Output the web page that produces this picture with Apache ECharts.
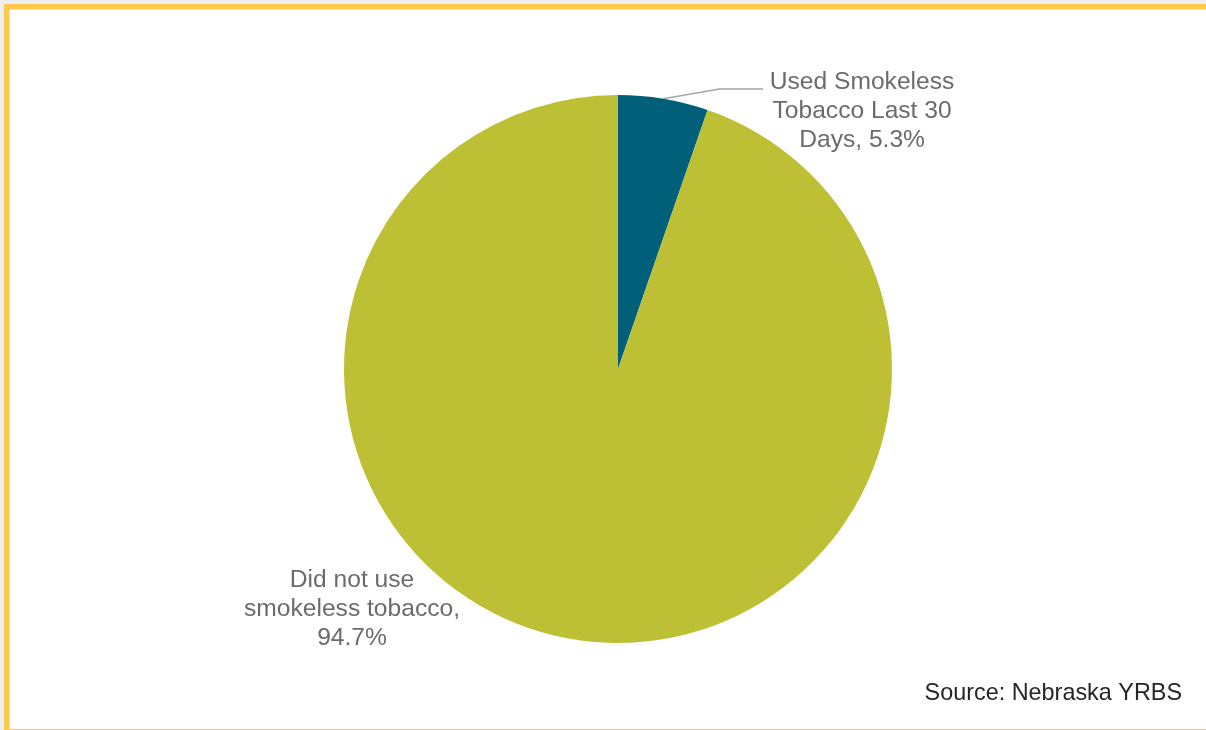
<!DOCTYPE html>
<html>
<head>
<meta charset="utf-8">
<script src="https://cdn.jsdelivr.net/npm/echarts@6/dist/echarts.min.js"></script>
<style>
  html, body { margin: 0; padding: 0; width: 1206px; height: 730px; overflow: hidden; background: #eceef0; }
  #frame { position: absolute; left: 4px; top: 4px; width: 1300px; height: 720px; border: 5px solid #ffc84b; background: #ffffff; box-shadow: inset 1px 1px 0 #ffe7a8; }
  #chart { position: absolute; left: 0; top: 0; width: 1206px; height: 730px; }
</style>
</head>
<body>
<div id="frame"></div>
<div id="chart"></div>
<script>
const categories = ['Used Smokeless Tobacco Last 30 Days', 'Did not use smokeless tobacco'];
const values = [5.3, 94.7];
const colors = ['#00607a', '#bdbf35'];
const labelLines = [
  ['Used Smokeless', 'Tobacco Last 30', 'Days, 5.3%'],
  ['Did not use', 'smokeless tobacco,', '94.7%']
];
const sourceText = 'Source: Nebraska YRBS';

const FONT = '"Liberation Sans", Arial, sans-serif';
const chart = echarts.init(document.getElementById('chart'), null, { renderer: 'canvas' });

chart.setOption({
  animation: false,
  backgroundColor: 'transparent',
  textStyle: { fontFamily: FONT },
  graphic: [{
    type: 'text',
    style: {
      x: 1182, y: 694,
      text: sourceText,
      align: 'right', verticalAlign: 'middle',
      fill: '#262626',
      font: '23.4px ' + FONT
    }
  }],
  series: [{
    type: 'pie',
    center: [618, 369],
    radius: 274,
    startAngle: 90,
    clockwise: true,
    avoidLabelOverlap: false,
    itemStyle: { borderWidth: 0 },
    label: {
      show: true,
      position: 'outside',
      alignTo: 'none',
      color: '#6b6b6b',
      fontSize: 24.6,
      lineHeight: 29,
      fontFamily: FONT,
      formatter: function (p) {
        return labelLines[p.dataIndex].map(t => '{a|' + t + '}').join('\n');
      },
      rich: {
        a: { width: 188, align: 'center', fontSize: 24.6, lineHeight: 29, color: '#6b6b6b', fontFamily: FONT }
      }
    },
    labelLine: {
      show: true,
      length: 10,
      length2: 98,
      smooth: false,
      minTurnAngle: 170,
      lineStyle: { color: '#a6a6a6', width: 1.5 }
    },
    labelLayout: function (params) {
      if (params.dataIndex === 1) {
        return { x: 352, y: 609, align: 'center', verticalAlign: 'middle' };
      }
      return {};
    },
    emphasis: { disabled: true },
    data: categories.map((c, i) => ({
      name: c,
      value: values[i],
      itemStyle: { color: colors[i] },
      labelLine: { show: i === 0 },
      label: i === 0 ? { padding: [44, 0, 0, 0] } : { rich: { a: { width: 230 } } }
    }))
  }]
});
</script>
</body>
</html>
